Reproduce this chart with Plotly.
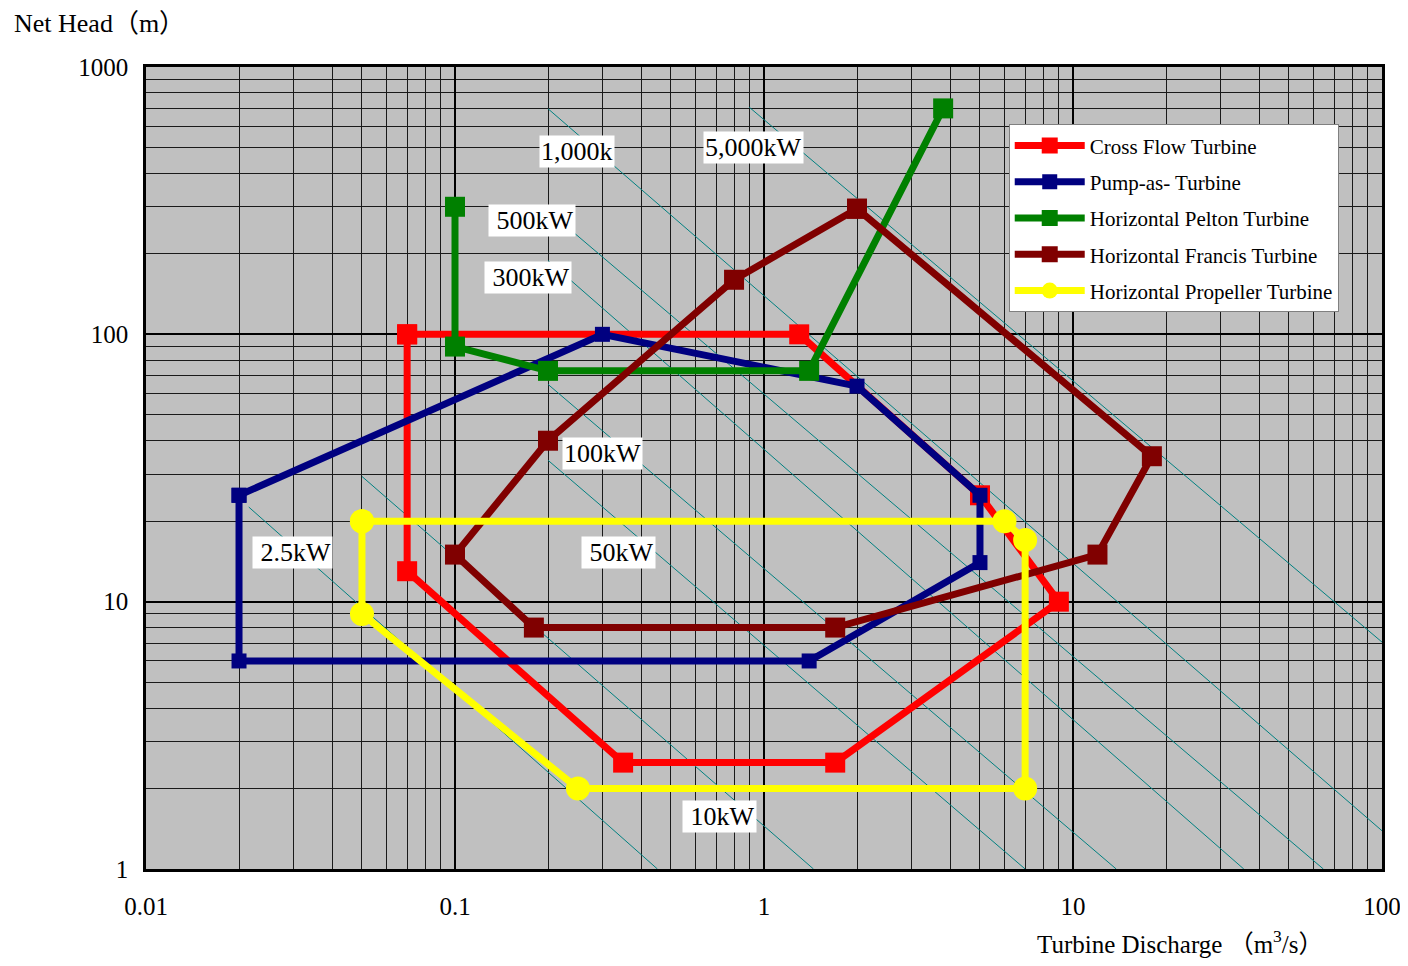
import plotly.graph_objects as go
import math

# ---------------- data ----------------
series_names = ["Cross Flow Turbine", "Pump-as- Turbine", "Horizontal Pelton Turbine",
                "Horizontal Francis Turbine", "Horizontal Propeller Turbine"]
series_colors = ["#FF0000", "#000080", "#008000", "#800000", "#FFFF00"]
series_symbols = ["square", "square", "square", "square", "circle"]
series_msize = [20, 15, 20, 20, 24]

cross_q = [0.07, 1.3, 5.0, 9.0, 1.7, 0.35, 0.07, 0.07]
cross_h = [100, 100, 25, 10, 2.5, 2.5, 13, 100]

pump_q = [0.02, 0.3, 2.0, 5.0, 5.0, 1.4, 0.02, 0.02]
pump_h = [25, 100, 64, 25, 14, 6, 6, 25]

pelton_q = [0.1, 0.1, 0.2, 1.4, 3.8]
pelton_h = [300, 90, 73, 73, 700]

francis_q = [2.0, 0.8, 0.2, 0.1, 0.18, 1.7, 12, 18, 2.0]
francis_h = [295, 160, 40, 15, 8, 8, 15, 35, 295]

prop_q = [0.05, 6.0, 7.0, 7.0, 0.25, 0.05, 0.05]
prop_h = [20, 20, 17, 2, 2, 9, 20]

# constant-output lines (start / end points) and their labels
power_labels = [" 2.5kW", " 10kW", " 50kW", "100kW", " 300kW", " 500kW", "1,000k", "5,000kW"]
power_q_start = [0.0215, 0.05, 0.2, 0.2, 0.2, 0.2, 0.2, 0.895]
power_h_start = [22.6, 29.4, 33.8, 65, 189, 290, 698, 708]
power_q_end = [0.452, 1.446, 7.0, 13.8, 35.7, 64.6, 100, 100]
power_h_end = [1, 1, 1, 1, 1, 1, 1.39, 7.06]
label_q = [0.0297, 0.716, 0.338, 0.301, 0.172, 0.178, 0.249, 0.926]
label_h = [15.3, 1.57, 15.3, 35.9, 163, 267, 484, 502]

x_tickvals = [0.01, 0.1, 1, 10, 100]
x_ticktext = ["0.01", "0.1", "1", "10", "100"]
y_tickvals = [1, 10, 100, 1000]
y_ticktext = ["1", "10", "100", "1000"]

FONT = "Liberation Serif, Times New Roman, Noto Sans CJK JP, serif"

fig = go.Figure()

# power lines
for i in range(len(power_labels)):
    fig.add_trace(go.Scatter(
        x=[power_q_start[i], power_q_end[i]], y=[power_h_start[i], power_h_end[i]],
        mode="lines", line=dict(color="#008080", width=1), showlegend=False,
        hoverinfo="skip"))

all_q = [cross_q, pump_q, pelton_q, francis_q, prop_q]
all_h = [cross_h, pump_h, pelton_h, francis_h, prop_h]
for i, name in enumerate(series_names):
    fig.add_trace(go.Scatter(
        x=all_q[i], y=all_h[i], name=name, mode="lines+markers",
        line=dict(color=series_colors[i], width=7),
        marker=dict(symbol=series_symbols[i], size=series_msize[i], color=series_colors[i]),
        legendgroup=f"g{i}"))

# labels for power lines
for i, lab in enumerate(power_labels):
    fig.add_annotation(x=math.log10(label_q[i]), y=math.log10(label_h[i]),
                       xref="x", yref="y", text=lab, showarrow=False,
                       font=dict(family=FONT, size=26, color="black"),
                       bgcolor="white", borderpad=1)

# axis titles
fig.add_annotation(x=-0.1084, y=1.054, xref="paper", yref="paper", xanchor="left",
                   yanchor="middle", text="Net Head（m）", showarrow=False,
                   font=dict(family=FONT, size=26, color="black"))
fig.add_annotation(x=0.8366, y=-0.091, xref="paper", yref="paper", xanchor="center",
                   yanchor="middle", text="Turbine Discharge （m<sup>3</sup>/s）",
                   showarrow=False, font=dict(family=FONT, size=25, color="black"))

axis_common = dict(type="log", showgrid=True, gridcolor="black", gridwidth=2,
                   showline=True, linecolor="black", linewidth=2.5, mirror=True,
                   zeroline=False, ticks="", automargin=False,
                   tickfont=dict(family=FONT, size=25, color="black"),
                   minor=dict(showgrid=True, gridcolor="#1a1a1a", gridwidth=1.2, dtick="D1"))

fig.update_xaxes(range=[-2, 2], tickvals=x_tickvals, ticktext=x_ticktext,
                 ticklabelstandoff=13, ticklabeloverflow="allow", **axis_common)
fig.update_yaxes(range=[0, 3], tickvals=y_tickvals, ticktext=y_ticktext,
                 ticklabelstandoff=10, **axis_common)

fig.update_layout(
    width=1392, height=950,
    margin=dict(l=138, r=18, t=59, b=89, autoexpand=False),
    plot_bgcolor="#C0C0C0", paper_bgcolor="white",
    font=dict(family=FONT, color="black"),
    legend=dict(x=0.698, y=0.9286, xanchor="left", yanchor="top",
                bgcolor="white", bordercolor="#808080", borderwidth=1,
                font=dict(family=FONT, size=21, color="black"),
                tracegroupgap=6, itemwidth=70),
)

fig.write_html("out.html")
